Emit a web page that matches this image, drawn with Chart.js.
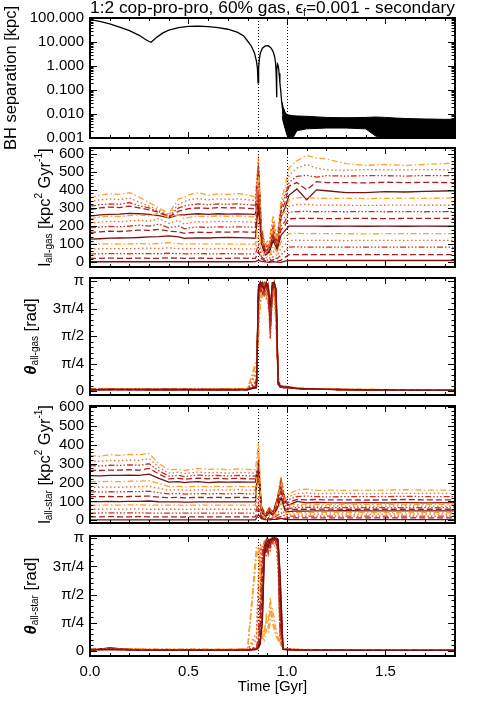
<!DOCTYPE html>
<html>
<head>
<meta charset="utf-8">
<title>1:2 cop-pro-pro, 60% gas - secondary</title>
<script src="https://cdn.jsdelivr.net/npm/chart.js@4.4.1/dist/chart.umd.min.js"></script>
<style>
  html, body { margin: 0; padding: 0; background: #fff; }
  body { width: 479px; height: 707px; position: relative; overflow: hidden; }
  canvas { position: absolute; left: 0; }
</style>
</head>
<body>
<canvas id="c1"></canvas>
<canvas id="c2"></canvas>
<canvas id="c3"></canvas>
<canvas id="c4"></canvas>
<canvas id="c5"></canvas>
<script>
/* ============================================================
   DATA
============================================================ */

// shared time axis
const X_MAX = 1.853;
const X_TICKS = [0, 0.5, 1.0, 1.5];
const X_LABELS = ["0.0", "0.5", "1.0", "1.5"];
const MERGER_TIMES = [0.853, 1.0];

// panel 1: BH separation [kpc]
const bhTime = [0, 0.05, 0.1, 0.15, 0.2, 0.25, 0.28, 0.3, 0.31, 0.32,
    0.34, 0.37, 0.4, 0.45, 0.5, 0.55, 0.6, 0.65, 0.7, 0.75,
    0.78, 0.8, 0.82, 0.835, 0.845, 0.85, 0.853, 0.856, 0.86, 0.865,
    0.875, 0.89, 0.905, 0.92, 0.93, 0.937, 0.942, 0.945, 0.947, 0.949,
    0.952, 0.956, 0.96, 0.964, 0.968, 0.972, 0.976, 0.98, 0.984, 0.988,
    0.992, 0.996, 1.0];
const bhSep = [85, 72, 57, 42, 30, 19, 13, 10.5, 9.8, 11.5,
    16, 24, 31, 40, 45, 46, 44, 40, 34, 25,
    18, 11, 6.5, 3.5, 1.6, 0.8, 0.2, 0.8, 2, 3.5,
    5.5, 6.9, 7, 5.5, 3.9, 2.5, 1.4, 0.5, 0.05, 0.7,
    1.2, 1.0, 0.5, 0.2, 0.1, 0.04, 0.02, 0.01, 0.004, 0.012,
    0.003, 0.008, 0.002];
// post-merger jitter band (upper / lower edge)
const bandTime = [0.976, 0.98, 0.99, 1.0, 1.01, 1.02, 1.03, 1.05, 1.1, 1.2, 1.3, 1.4, 1.45, 1.5, 1.55, 1.6, 1.7, 1.8, 1.85];
const bandTop  = [0.03, 0.02, 0.012, 0.0095, 0.009, 0.0088, 0.0085, 0.0083, 0.008, 0.0072, 0.007, 0.0072, 0.0075, 0.0072, 0.0068, 0.0065, 0.0062, 0.006, 0.006];
const bandLow  = [0.008, 0.005, 0.0025, 0.0013, 0.001, 0.0012, 0.001, 0.002, 0.0024, 0.0026, 0.0026, 0.0024, 0.0012, 0.001, 0.001, 0.001, 0.001, 0.001, 0.001];
const BH_TICKS = [0.001, 0.01, 0.1, 1, 10, 100];
const BH_LABELS = ["0.001", "0.010", "0.100", "1.000", "10.000", "100.000"];

// panels 2 and 4: angular momentum, 15 shells each
const lTime = [0, 0.05, 0.1, 0.15, 0.2, 0.25, 0.3, 0.35, 0.4, 0.45, 0.48, 0.5, 0.55, 0.6, 0.65, 0.7, 0.75, 0.8, 0.84,
    0.855, 0.87, 0.89, 0.91, 0.93, 0.95, 0.97, 0.99,
    1.01, 1.05, 1.1, 1.15, 1.2, 1.3, 1.4, 1.5, 1.6, 1.7, 1.85];
const L_TICKS = [0, 100, 200, 300, 400, 500, 600];
const L_LABELS = ["0", "100", "200", "300", "400", "500", "600"];

const lGas = [
    [3,3,3,3,3,3,3,3,4,3,3,3,3,3,3,3,3,3,4, 12,5,2,0,4,1,0,6, 10,10,10,10,10,10,10,10,10,10,10],
    [22,22,23,22,22,23,22,22,24,23,22,22,23,22,22,22,23,22,22, 60,20,8,2,15,5,12,28, 42,42,43,42,42,42,43,42,42,42,42],
    [47,47,48,48,47,48,48,47,50,48,47,47,48,47,47,48,47,47,47, 95,30,15,10,30,20,40,62, 84,85,84,84,84,84,84,84,84,84,84],
    [74,75,76,76,75,77,78,76,80,76,74,75,76,74,75,76,75,74,74, 150,50,28,20,60,35,80,100, 121,122,121,121,121,120,121,121,121,121,121],
    [100,101,102,100,102,103,101,104,108,103,100,101,102,100,102,101,100,101,100, 250,70,40,30,90,55,115,140, 158,160,158,159,158,158,157,158,158,158,158],
    [128,130,133,134,135,137,140,142,146,140,132,133,135,134,136,137,136,135,133, 310,100,40,55,120,70,150,175, 200,200,200,200,199,200,199,200,199,200,199],
    [165,168,172,170,174,178,176,182,172,168,160,162,166,164,168,166,168,167,166, 340,120,50,60,140,80,180,205, 240,242,243,242,241,242,242,241,242,242,242],
    [190,195,198,196,200,205,200,210,190,200,185,190,195,192,196,194,196,195,193, 380,130,60,70,150,90,200,225, 276,280,281,279,280,279,280,279,280,279,280],
    [215,222,226,224,228,232,226,242,215,232,210,218,224,222,226,224,225,223,220, 420,150,70,80,170,100,230,250, 310,318,320,316,315,315,314,315,316,315,315],
    [240,250,255,252,258,262,256,272,245,262,240,248,254,252,256,254,256,253,250, 480,160,80,90,190,110,260,280, 345,356,358,354,353,353,352,353,354,353,355],
    [255,262,264,266,270,268,265,258,245,262,262,264,268,265,268,266,267,266,265, 400,140,60,80,150,90,250,300, 370,405,345,400,395,385,385,390,388,392,395],
    [290,300,305,302,310,300,290,275,250,282,290,296,300,298,302,300,301,298,296, 500,170,70,90,180,100,280,330, 420,440,400,445,440,440,438,442,440,441,440],
    [310,318,322,320,330,312,300,280,255,300,310,316,322,318,322,320,322,318,316, 540,180,80,100,200,110,300,360, 440,475,480,470,478,476,478,478,476,479,478],
    [335,345,350,346,355,332,310,290,262,320,335,345,352,345,350,348,350,345,342, 590,190,90,110,230,120,320,380, 480,520,540,520,510,508,512,510,510,512,510],
    [355,370,380,375,385,360,330,300,270,350,360,372,385,370,378,375,380,372,360, 560,200,100,130,260,130,340,420, 520,560,590,575,570,545,535,540,535,540,548]
];

const lStar = [
    [2,2,2,2,2,2,2,2,2,2,2,2,2,2,2,2,2,2,2, 30,8,3,2,4,5,10,5, 3,3,3,3,3,3,3,3,3,3,3],
    [18,18,19,18,18,19,18,18,18,18,17,18,18,18,18,18,18,18,18, 60,15,5,8,6,12,20,10, 12,12,12,12,12,12,12,12,12,12,12],
    [38,38,39,38,39,39,38,38,38,38,37,38,38,38,38,38,38,38,38, 90,20,8,15,10,25,40,20, 22,22,22,22,22,22,22,22,22,22,22],
    [58,58,59,58,59,60,58,58,58,58,57,58,58,58,58,58,58,58,58, 130,30,10,25,15,35,60,30, 32,32,32,32,32,32,32,32,32,32,32],
    [80,80,81,80,81,82,80,80,80,80,79,80,80,80,80,80,80,80,80, 410,40,12,30,20,50,90,40, 40,40,40,41,40,40,40,40,41,40,40],
    [99,99,100,99,100,100,102,98,97,97,96,96,97,97,97,97,97,97,97, 320,45,15,40,25,60,120,50, 46,49,48,49,49,50,49,49,49,49,49],
    [125,125,126,125,126,127,128,122,120,121,119,120,121,120,121,120,121,120,120, 280,50,18,45,30,70,150,60, 55,58,58,58,59,58,58,58,58,58,58],
    [150,150,151,150,152,152,154,146,140,142,139,140,141,140,141,140,142,140,140, 260,55,20,50,30,80,170,70, 62,67,68,67,67,67,67,67,67,67,67],
    [175,175,176,175,177,178,180,170,160,162,159,160,161,160,161,160,162,160,160, 240,60,22,55,35,90,190,80, 70,75,76,75,76,75,75,75,76,75,75],
    [205,205,206,205,207,208,210,196,178,180,177,178,180,178,180,178,180,178,178, 230,62,25,60,35,95,200,90, 80,84,85,84,84,84,84,84,84,84,84],
    [237,236,238,238,240,238,245,222,202,205,200,202,205,200,203,202,204,202,202, 300,65,25,55,40,100,180,95, 80,100,92,95,93,92,93,92,93,92,93],
    [265,264,266,266,268,266,275,245,220,222,218,220,224,220,222,220,222,220,220, 250,70,28,60,40,105,200,100, 95,110,108,110,108,108,107,108,110,108,108],
    [290,288,292,291,294,292,300,262,235,238,232,235,240,236,238,235,238,236,235, 260,72,30,62,42,110,210,105, 110,125,128,125,124,125,125,125,127,125,125],
    [315,312,318,316,320,318,328,280,250,255,248,250,256,252,254,250,254,252,250, 280,75,30,65,45,115,220,110, 125,142,145,140,142,142,141,142,143,142,142],
    [345,340,348,345,350,348,355,300,268,270,265,268,275,270,272,268,272,270,268, 410,80,32,68,48,120,230,115, 140,160,165,158,160,158,160,160,162,160,160]
];

// panels 3 and 5: misalignment angle [rad]
const aTime = [0, 0.1, 0.2, 0.3, 0.4, 0.5, 0.6, 0.7, 0.8,
    0.845, 0.855, 0.865, 0.875, 0.885, 0.895, 0.905, 0.915, 0.925, 0.935, 0.945, 0.955, 0.965, 0.98,
    1.0, 1.05, 1.1, 1.2, 1.4, 1.6, 1.85];
const A_TICKS = [0, Math.PI / 4, Math.PI / 2, 3 * Math.PI / 4, Math.PI];
const A_LABELS = ["0", "π/4", "π/2", "3π/4", "π"];

const thGas = [
    [0.04,0.05,0.04,0.05,0.04,0.04,0.04,0.04,0.05, 0.1,2.9,3.1,3.0,2.9,3.1,3.0,2.4,3.0,3.1,2.9,0.3,0.15,0.12, 0.12,0.08,0.07,0.05,0.04,0.03,0.02],
    [0.05,0.04,0.05,0.04,0.05,0.05,0.04,0.05,0.04, 0.15,2.7,3.1,2.9,3.0,3.0,2.8,2.0,2.9,3.0,2.7,0.2,0.12,0.1, 0.1,0.07,0.06,0.05,0.04,0.03,0.02],
    [0.06,0.05,0.06,0.05,0.05,0.06,0.05,0.05,0.06, 0.2,2.5,3.0,3.1,2.8,2.9,3.1,1.6,2.7,3.1,2.5,0.25,0.14,0.11, 0.11,0.08,0.06,0.05,0.04,0.03,0.02],
    [0.06,0.06,0.05,0.06,0.06,0.05,0.06,0.06,0.06, 0.5,2.2,2.9,3.0,3.1,2.7,2.9,2.2,3.0,2.9,2.2,0.3,0.16,0.13, 0.12,0.09,0.07,0.05,0.04,0.03,0.03],
    [0.07,0.06,0.07,0.06,0.06,0.07,0.06,0.06,0.07, 0.8,1.8,2.7,2.9,3.0,2.8,2.6,2.5,2.8,3.0,2.0,0.35,0.18,0.14, 0.13,0.09,0.07,0.06,0.05,0.03,0.03],
    [0.04,0.05,0.05,0.04,0.05,0.04,0.05,0.04,0.04, 0.12,2.8,3.1,3.1,2.9,3.0,2.9,2.1,3.1,3.1,2.8,0.25,0.13,0.11, 0.11,0.08,0.06,0.05,0.04,0.03,0.02],
    [0.05,0.05,0.04,0.05,0.05,0.05,0.04,0.05,0.05, 0.15,2.6,3.0,2.8,3.1,2.9,3.0,1.8,2.8,3.0,2.6,0.2,0.12,0.1, 0.1,0.08,0.06,0.05,0.04,0.03,0.02],
    [0.05,0.06,0.05,0.05,0.06,0.05,0.05,0.05,0.05, 0.25,2.4,3.1,3.0,2.7,3.1,2.8,1.5,2.6,3.1,2.4,0.3,0.15,0.12, 0.12,0.08,0.07,0.05,0.04,0.03,0.02],
    [0.06,0.07,0.06,0.06,0.05,0.06,0.06,0.05,0.06, 0.5,2.1,2.8,2.9,3.0,2.6,3.0,2.3,2.9,2.8,2.1,0.35,0.17,0.13, 0.12,0.09,0.07,0.05,0.04,0.03,0.03],
    [0.07,0.07,0.06,0.07,0.06,0.06,0.07,0.06,0.07, 0.8,1.6,2.6,2.8,2.9,2.9,2.5,2.6,2.7,2.9,1.8,0.4,0.18,0.14, 0.13,0.1,0.08,0.06,0.05,0.04,0.03],
    [0.04,0.04,0.05,0.04,0.04,0.05,0.04,0.04,0.05, 0.1,3.0,3.1,3.0,3.1,3.0,2.9,2.2,3.0,3.1,2.9,0.2,0.12,0.1, 0.1,0.07,0.06,0.05,0.04,0.03,0.02],
    [0.05,0.05,0.05,0.05,0.04,0.05,0.05,0.05,0.04, 0.15,2.7,2.9,3.1,2.9,3.1,2.8,1.9,2.9,3.0,2.7,0.25,0.13,0.11, 0.11,0.08,0.06,0.05,0.04,0.03,0.02],
    [0.06,0.05,0.06,0.05,0.06,0.05,0.06,0.05,0.06, 0.3,2.4,3.0,2.9,2.8,3.0,3.0,1.7,2.8,3.1,2.5,0.3,0.15,0.12, 0.12,0.09,0.07,0.05,0.04,0.03,0.02],
    [0.06,0.07,0.06,0.06,0.06,0.07,0.06,0.06,0.06, 0.6,2.0,2.8,2.8,3.0,2.7,2.9,2.4,2.9,2.9,2.2,0.35,0.17,0.13, 0.13,0.09,0.07,0.06,0.04,0.03,0.03],
    [0.07,0.08,0.07,0.06,0.07,0.07,0.06,0.07,0.07, 0.9,1.5,2.5,2.7,2.8,2.8,2.4,2.7,2.6,2.8,1.7,0.4,0.2,0.15, 0.14,0.1,0.08,0.06,0.05,0.04,0.03]
];

const thStar = [
    [0.03,0.04,0.03,0.03,0.03,0.03,0.03,0.03,0.03, 0.05,0.1,0.3,0.8,2.6,3.0,2.9,3.1,3.1,3.14,3.1,3.0,2.2,0.05, 0.04,0.03,0.03,0.03,0.02,0.02,0.02],
    [0.04,0.05,0.04,0.03,0.04,0.03,0.04,0.03,0.04, 0.06,0.15,0.5,1.8,2.9,2.7,3.0,3.0,3.14,3.1,3.14,2.8,1.0,0.06, 0.05,0.04,0.03,0.03,0.03,0.02,0.02],
    [0.03,0.05,0.04,0.04,0.03,0.04,0.03,0.04,0.04, 0.08,0.2,1.0,2.6,2.8,3.1,2.7,3.1,3.0,3.14,3.0,2.9,0.5,0.05, 0.05,0.04,0.03,0.03,0.03,0.02,0.02],
    [0.04,0.06,0.05,0.04,0.04,0.04,0.04,0.04,0.05, 0.3,1.5,2.8,2.9,3.0,2.6,3.0,2.9,3.1,3.0,3.1,2.5,0.3,0.06, 0.05,0.04,0.04,0.03,0.03,0.02,0.02],
    [0.04,0.05,0.05,0.04,0.05,0.04,0.05,0.04,0.05, 2.8,2.9,2.6,0.4,0.3,0.6,0.5,0.8,1.2,0.9,0.6,0.4,0.2,0.06, 0.05,0.04,0.04,0.03,0.03,0.03,0.02],
    [0.03,0.08,0.04,0.03,0.03,0.03,0.03,0.03,0.03, 0.05,0.1,0.2,1.2,2.9,3.0,3.1,2.9,3.14,3.1,3.14,3.1,1.5,0.05, 0.04,0.03,0.03,0.03,0.02,0.02,0.02],
    [0.04,0.07,0.04,0.04,0.03,0.04,0.03,0.04,0.03, 0.07,0.15,0.4,2.2,2.7,2.9,3.0,3.1,3.14,3.14,3.0,2.9,0.8,0.06, 0.05,0.04,0.03,0.03,0.03,0.02,0.02],
    [0.04,0.06,0.05,0.04,0.04,0.03,0.04,0.04,0.04, 0.1,0.3,1.5,2.7,3.0,2.8,2.9,3.14,3.0,3.1,3.14,2.7,0.4,0.05, 0.05,0.04,0.04,0.03,0.03,0.02,0.02],
    [0.05,0.07,0.05,0.05,0.04,0.05,0.04,0.05,0.05, 0.4,1.9,2.9,2.8,2.6,3.0,2.8,3.0,3.1,2.9,3.0,2.2,0.3,0.06, 0.05,0.05,0.04,0.03,0.03,0.03,0.02],
    [0.05,0.06,0.06,0.05,0.05,0.05,0.05,0.05,0.06, 2.6,2.8,2.2,0.5,0.4,1.0,0.8,1.5,1.0,0.7,0.5,0.3,0.2,0.07, 0.06,0.05,0.04,0.04,0.03,0.03,0.02],
    [0.03,0.09,0.05,0.03,0.03,0.03,0.03,0.03,0.03, 0.05,0.1,0.3,0.9,2.8,3.1,2.9,3.0,3.14,3.14,3.14,3.1,2.0,0.05, 0.04,0.03,0.03,0.03,0.02,0.02,0.02],
    [0.04,0.07,0.05,0.04,0.04,0.04,0.04,0.04,0.04, 0.08,0.2,0.7,2.4,3.0,2.8,3.1,3.1,3.0,3.14,3.1,3.0,1.2,0.06, 0.05,0.04,0.03,0.03,0.03,0.02,0.02],
    [0.05,0.07,0.05,0.04,0.04,0.04,0.04,0.04,0.05, 0.12,0.4,1.8,2.8,2.9,3.0,2.7,3.0,3.1,3.14,3.0,2.8,0.6,0.06, 0.05,0.04,0.04,0.03,0.03,0.02,0.02],
    [0.05,0.08,0.06,0.05,0.05,0.05,0.05,0.05,0.05, 0.5,2.2,3.0,2.7,2.8,2.9,3.0,2.8,3.0,3.1,2.9,2.4,0.4,0.07, 0.06,0.05,0.04,0.04,0.03,0.03,0.02],
    [0.06,0.07,0.06,0.06,0.05,0.06,0.05,0.05,0.06, 2.9,2.9,2.4,0.6,0.5,0.9,0.6,1.2,0.8,0.6,0.4,0.3,0.25,0.08, 0.07,0.05,0.05,0.04,0.04,0.03,0.03]
];

/* ============================================================
   STYLE
============================================================ */
const FONT = "'Liberation Sans', 'DejaVu Sans', sans-serif";
Chart.defaults.font.family = FONT;
Chart.defaults.font.size = 15;
Chart.defaults.color = "#000";

// line style cycle: solid, dashed, dash-dot-dot-dot, dotted, dash-dot
const STYLE_COLORS = ["#7a1212", "#a81f1f", "#cc3320", "#ee6d2c", "#ffa12e"];
const STYLE_DASH = [[], [6, 3], [6, 2, 1.5, 2, 1.5, 2, 1.5, 2], [1.5, 2.5], [6, 2.5, 1.5, 2.5]];

const PAGE_W = 479;
const AREA_LEFT = 90;
const AREA_RIGHT = 455;

function shellSets(times, list) {
    return list.map((vals, i) => ({
        data: times.map((t, j) => ({ x: t, y: vals[j] })),
        borderColor: STYLE_COLORS[i % 5],
        borderDash: STYLE_DASH[i % 5],
        borderWidth: 1.3,
        pointRadius: 0,
        fill: false
    }));
}

/* rich text (sub/superscripts), optionally rotated and fitted to a width */
function drawRich(ctx, segs, x, y, rot, fitW) {
    ctx.save();
    ctx.translate(x, y);
    ctx.rotate(rot || 0);
    ctx.textAlign = "left";
    ctx.textBaseline = "middle";
    ctx.fillStyle = "#000";
    let total = 0;
    for (const s of segs) {
        ctx.font = s.font;
        s.w = ctx.measureText(s.t).width;
        total += s.w;
    }
    if (fitW) {
        const k = fitW / total;
        ctx.scale(k, k);
    }
    let cx = -total / 2;
    for (const s of segs) {
        ctx.font = s.font;
        ctx.fillText(s.t, cx, s.dy || 0);
        cx += s.w;
    }
    ctx.restore();
}

const F_MAIN = "15px " + FONT;
const F_YT = "16.5px " + FONT;
const F_SUB = "9px " + FONT;
const F_YSUB = "10px " + FONT;
const F_THETA = "italic bold 16.5px " + FONT;

/* frame, inward ticks, dotted merger lines, titles */
function framePlugin(p) {
    return {
        id: "frame" + p.id,
        beforeDatasetsDraw(chart) {
            const { ctx, chartArea: a, scales: { x } } = chart;
            ctx.save();
            ctx.strokeStyle = "#000";
            ctx.lineWidth = 1;
            ctx.setLineDash([1, 2]);
            for (const t of MERGER_TIMES) {
                const px = Math.round(x.getPixelForValue(t)) + 0.5;
                ctx.beginPath();
                ctx.moveTo(px, a.top);
                ctx.lineTo(px, a.bottom);
                ctx.stroke();
            }
            ctx.restore();
        },
        afterDatasetsDraw(chart) {
            const { ctx, chartArea: a, scales: { x, y } } = chart;
            ctx.save();
            ctx.strokeStyle = "#000";
            ctx.lineWidth = 1;
            ctx.beginPath();
            // x ticks, top and bottom
            for (let k = 0; k <= 18; k++) {
                const v = k / 10;
                const len = (k % 5 === 0) ? 6 : 3;
                const px = Math.round(x.getPixelForValue(v)) + 0.5;
                ctx.moveTo(px, a.bottom); ctx.lineTo(px, a.bottom - len);
                ctx.moveTo(px, a.top); ctx.lineTo(px, a.top + len);
            }
            // y ticks, left and right
            const yt = [];
            p.yMajor.forEach(v => yt.push([v, 7]));
            p.yMinor.forEach(v => yt.push([v, 3.5]));
            for (const [v, len] of yt) {
                if (v < y.min || v > y.max) continue;
                const py = Math.round(y.getPixelForValue(v)) + 0.5;
                ctx.moveTo(a.left, py); ctx.lineTo(a.left + len, py);
                ctx.moveTo(a.right, py); ctx.lineTo(a.right - len, py);
            }
            ctx.stroke();
            ctx.lineWidth = 2;
            ctx.strokeRect(a.left, a.top, a.right - a.left, a.bottom - a.top);
            ctx.restore();
        },
        afterDraw(chart) {
            const { ctx, chartArea: a } = chart;
            const cy = (a.top + a.bottom) / 2;
            drawRich(ctx, p.yTitle, p.yTitleX, cy, -Math.PI / 2);
            if (p.title) {
                drawRich(ctx, p.title, (a.left + a.right) / 2, 8, 0, a.right - a.left);
            }
            if (p.xTitle) {
                drawRich(ctx, [{ t: p.xTitle, font: F_MAIN }], (a.left + a.right) / 2, chart.height - 20, 0);
            }
        }
    };
}

function yAxis(opts) {
    return {
        type: opts.type || "linear",
        position: "left",
        min: opts.min,
        max: opts.max,
        grid: { display: false, drawTicks: false },
        border: { display: false },
        ticks: {
            padding: 6,
            autoSkip: false,
            font: { size: 15 },
            callback: (v, i) => opts.labels[i]
        },
        afterBuildTicks: s => { s.ticks = opts.ticks.map(v => ({ value: v })); },
        afterFit: s => { s.width = AREA_LEFT; }
    };
}

function xAxis(show) {
    const ax = { type: "linear", min: 0, max: X_MAX, display: show };
    if (show) {
        Object.assign(ax, {
            grid: { display: false, drawTicks: false },
            border: { display: false },
            ticks: { padding: 7, autoSkip: false, maxRotation: 0, font: { size: 15 },
                     callback: (v, i) => X_LABELS[i] },
            afterBuildTicks: s => { s.ticks = X_TICKS.map(v => ({ value: v })); },
            afterFit: s => { s.height = 51; }
        });
    }
    return ax;
}

function makePanel(p) {
    const c = document.getElementById(p.id);
    c.width = PAGE_W;
    c.height = p.height;
    c.style.top = p.top + "px";
    c.style.width = PAGE_W + "px";
    c.style.height = p.height + "px";
    return new Chart(c, {
        type: "line",
        data: { datasets: p.datasets },
        options: {
            responsive: false,
            animation: false,
            devicePixelRatio: 1,
            layout: { padding: { left: 0, right: PAGE_W - AREA_RIGHT, top: p.padTop, bottom: p.padBottom } },
            plugins: { legend: { display: false }, tooltip: { enabled: false } },
            scales: { x: xAxis(!!p.showX), y: p.y },
            elements: { line: { tension: 0 } }
        },
        plugins: [framePlugin(p)]
    });
}

/* minor tick positions (axis decoration only) */
const logMinor = [];
for (let k = -3; k <= 1; k++) for (let m = 2; m <= 9; m++) logMinor.push(m * Math.pow(10, k));
const lMinor = [];
for (let v = -20; v <= 640; v += 20) if (v % 100 !== 0) lMinor.push(v);
const aMinor = [];
for (let k = -1; k <= 21; k++) if (k % 5 !== 0) aMinor.push(k * Math.PI / 20);

const lTitle = sub => [
    { t: "l", font: F_YT }, { t: sub, font: F_YSUB, dy: 4 },
    { t: " [kpc", font: F_YT }, { t: "2", font: F_YSUB, dy: -6 },
    { t: " Gyr", font: F_YT }, { t: "-1", font: F_YSUB, dy: -6 }, { t: "]", font: F_YT }
];
const aTitle = sub => [
    { t: "θ", font: F_THETA }, { t: sub, font: F_YSUB, dy: 4 },
    { t: " [rad]", font: F_YT }
];

/* ============================================================
   PANELS
============================================================ */
makePanel({
    id: "c1", top: 0, height: 153, padTop: 18, padBottom: 12,
    datasets: [
        { data: bhTime.map((t, j) => ({ x: t, y: bhSep[j] })), borderColor: "#000", borderWidth: 1.3, pointRadius: 0, fill: false },
        { data: bandTime.map((t, j) => ({ x: t, y: bandTop[j] })), borderColor: "#000", borderWidth: 1, pointRadius: 0, fill: "+1", backgroundColor: "#000" },
        { data: bandTime.map((t, j) => ({ x: t, y: bandLow[j] })), borderColor: "#000", borderWidth: 1, pointRadius: 0, fill: false }
    ],
    y: yAxis({ type: "logarithmic", min: 0.001, max: 100, ticks: BH_TICKS, labels: BH_LABELS }),
    yMajor: BH_TICKS, yMinor: logMinor,
    yTitleX: 11,
    yTitle: [{ t: "BH separation [kpc]", font: F_YT }],
    title: [
        { t: "1:2 cop-pro-pro, 60% gas, ϵ", font: F_MAIN },
        { t: "f", font: F_SUB, dy: 4 },
        { t: "=0.001 - secondary", font: F_MAIN }
    ]
});

makePanel({
    id: "c2", top: 133, height: 149, padTop: 12, padBottom: 12,
    datasets: shellSets(lTime, lGas),
    y: yAxis({ min: -26, max: 631, ticks: L_TICKS, labels: L_LABELS }),
    yMajor: L_TICKS, yMinor: lMinor,
    yTitleX: 45,
    yTitle: lTitle("all-gas")
});

makePanel({
    id: "c3", top: 263, height: 147, padTop: 12, padBottom: 12,
    datasets: shellSets(aTime, thGas),
    y: yAxis({ min: -0.11, max: 3.23, ticks: A_TICKS, labels: A_LABELS }),
    yMajor: A_TICKS, yMinor: aMinor,
    yTitleX: 31,
    yTitle: aTitle("all-gas")
});

makePanel({
    id: "c4", top: 391, height: 147, padTop: 12, padBottom: 12,
    datasets: shellSets(lTime, lStar),
    y: yAxis({ min: -15, max: 607, ticks: L_TICKS, labels: L_LABELS }),
    yMajor: L_TICKS, yMinor: lMinor,
    yTitleX: 45,
    yTitle: lTitle("all-star")
});

makePanel({
    id: "c5", top: 521, height: 186, padTop: 12, padBottom: 0, showX: true,
    datasets: shellSets(aTime, thStar),
    y: yAxis({ min: -0.135, max: 3.2, ticks: A_TICKS, labels: A_LABELS }),
    yMajor: A_TICKS, yMinor: aMinor,
    yTitleX: 31,
    yTitle: aTitle("all-star"),
    xTitle: "Time [Gyr]"
});
</script>
</body>
</html>
